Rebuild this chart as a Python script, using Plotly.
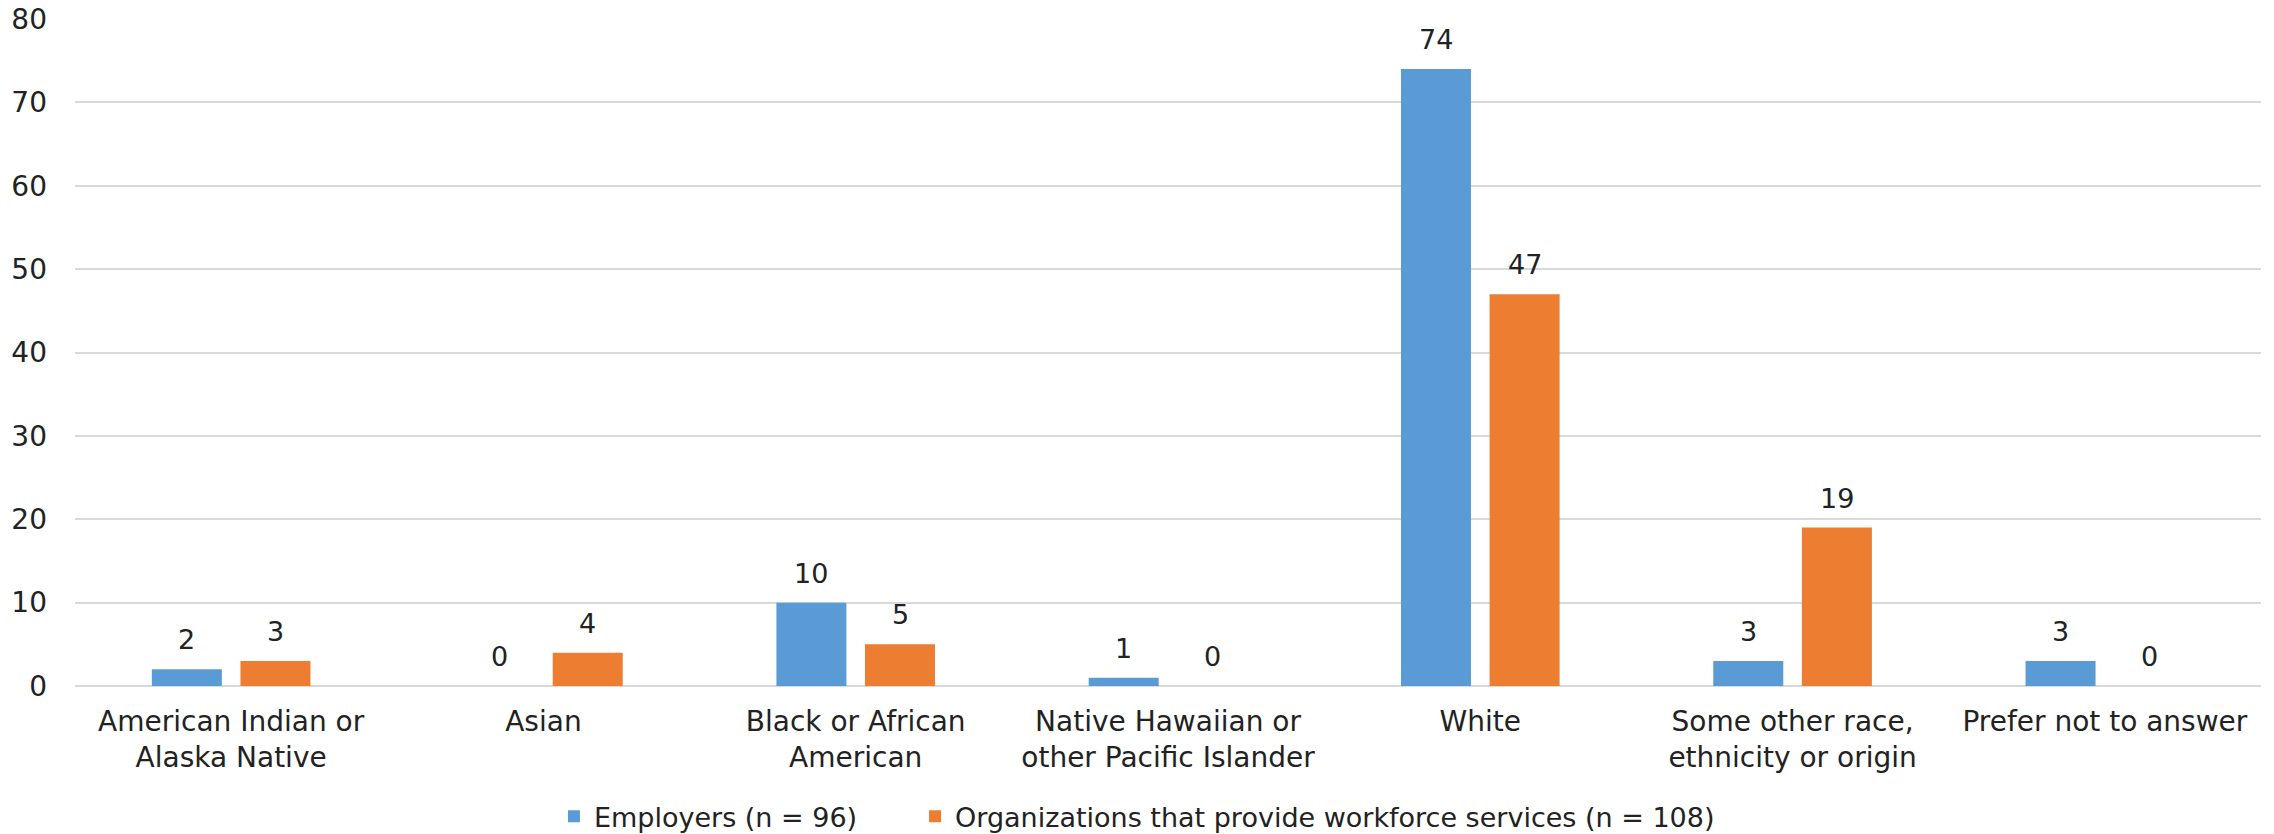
import plotly.graph_objects as go

categories = [
    "American Indian or<br>Alaska Native",
    "Asian",
    "Black or African<br>American",
    "Native Hawaiian or<br>other Pacific Islander",
    "White",
    "Some other race,<br>ethnicity or origin",
    "Prefer not to answer",
]
employers = [2, 0, 10, 1, 74, 3, 3]
organizations = [3, 4, 5, 0, 47, 19, 0]
series_names = ["Employers (n = 96)", "Organizations that provide workforce services (n = 108)"]
y_ticks = [0, 10, 20, 30, 40, 50, 60, 70, 80]

FONT = "DejaVu Sans"
TXT = "#222222"
BLUE = "#5B9BD5"
ORANGE = "#ED7D31"

fig = go.Figure()
fig.add_trace(go.Bar(x=categories, y=employers, name=series_names[0], marker_color=BLUE,
                     marker_line_width=0, legend="legend"))
fig.add_trace(go.Bar(x=categories, y=organizations, name=series_names[1], marker_color=ORANGE,
                     marker_line_width=0, legend="legend2"))

shift = 44.3
for vals, xs in ((employers, -shift), (organizations, shift)):
    for c, v in zip(categories, vals):
        fig.add_annotation(x=c, y=v, text=str(v), showarrow=False, xshift=xs, yshift=12,
                           yanchor="bottom", font=dict(family=FONT, size=27, color=TXT))

legend_common = dict(orientation="h", xanchor="left", xref="container", yref="container",
                     y=0.05, yanchor="top", font=dict(family=FONT, size=27, color=TXT),
                     bgcolor="rgba(0,0,0,0)")

fig.update_layout(
    width=2274, height=834,
    margin=dict(l=75, r=13, t=19, b=148),
    paper_bgcolor="white", plot_bgcolor="white",
    barmode="group", bargap=0.4325, bargroupgap=0.21,
    font=dict(family=FONT, size=27, color=TXT),
    showlegend=True,
    legend=dict(x=0.2436, **legend_common),
    legend2=dict(x=0.4024, **legend_common),
)
fig.update_yaxes(range=[0, 80], tickvals=y_ticks, showgrid=True, gridcolor="#D9D9D9", gridwidth=2,
                 zeroline=True, zerolinecolor="#D9D9D9", zerolinewidth=2, showline=False,
                 automargin=False, ticklabelstandoff=27,
                 tickfont=dict(family=FONT, size=28, color=TXT))
fig.update_xaxes(showgrid=False, showline=False, ticks="", automargin=False, ticklabelstandoff=16,
                 tickfont=dict(family=FONT, size=28, color=TXT))

fig.write_html("out.html")
